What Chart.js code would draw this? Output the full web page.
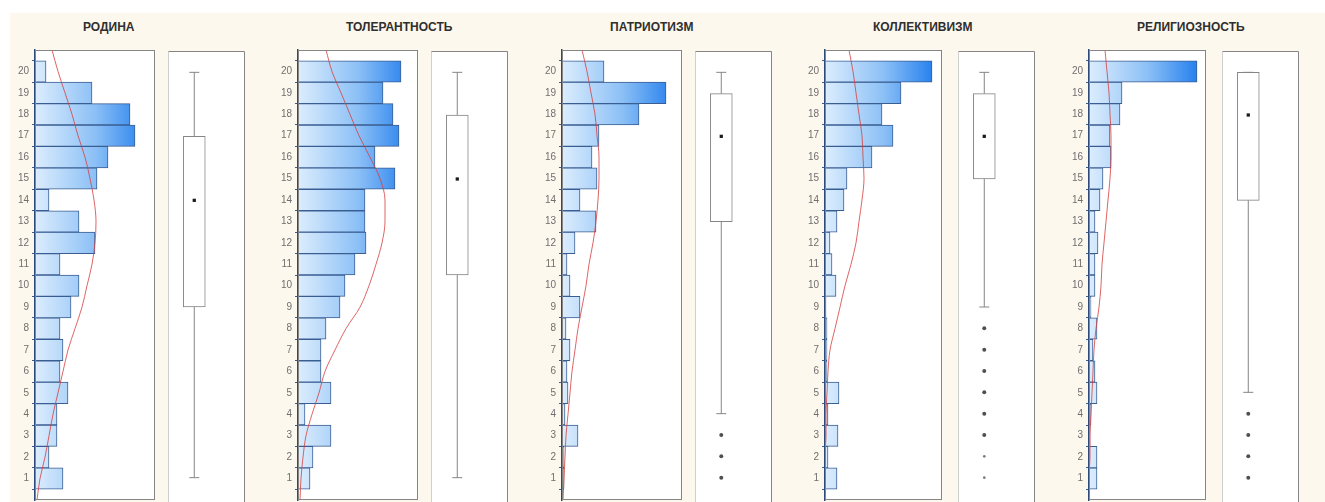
<!DOCTYPE html>
<html>
<head>
<meta charset="utf-8">
<script src="https://cdn.jsdelivr.net/npm/chart.js@4.4.1/dist/chart.umd.min.js"></script>
<style>
  html, body { margin: 0; padding: 0; width: 1325px; height: 502px; overflow: hidden; background: #ffffff; }
  #sheet { position: absolute; left: 10px; top: 13px; right: 0; bottom: 0; background: #fcf8ee; }
  .title { position: absolute; top: 20px; font: bold 12px "Liberation Sans", Arial, sans-serif; color: #2f2f2f; white-space: nowrap; }
  canvas { position: absolute; }
</style>
</head>
<body>
<div id="sheet"></div>
<script>
// Score levels (1..20) shown on each histogram axis
const scoreLevels = [1, 2, 3, 4, 5, 6, 7, 8, 9, 10, 11, 12, 13, 14, 15, 16, 17, 18, 19, 20];
const scaleTitles = ['РОДИНА', 'ТОЛЕРАНТНОСТЬ', 'ПАТРИОТИЗМ', 'КОЛЛЕКТИВИЗМ', 'РЕЛИГИОЗНОСТЬ'];

// Respondent counts per score level (score 1 first)
const countsRodina       = [28, 14, 22, 22, 33, 25, 28, 25, 36, 44, 25, 60, 44, 14, 62, 73, 100, 95, 57, 11];
const countsTolerance    = [12, 15, 33, 7, 33, 23, 23, 28, 42, 47, 57, 68, 67, 67, 97, 77, 101, 95, 85, 103];
const countsPatriotism   = [2, 2, 16, 3, 6, 5, 8, 4, 18, 8, 5, 13, 34, 18, 35, 30, 37, 77, 104, 42];
const countsCollectivism = [12, 3, 13, 3, 14, 2, 2, 2, 1, 11, 7, 5, 12, 19, 22, 47, 68, 57, 76, 107];
const countsReligiosity  = [8, 8, 1, 2, 8, 6, 4, 8, 2, 6, 6, 9, 6, 11, 14, 22, 21, 31, 33, 108];

// Fitted normal curve, read at levels 0..21
const curveLevels       = [0, 1, 2, 3, 4, 5, 6, 7, 8, 9, 10, 11, 12, 13, 14, 15, 16, 17, 18, 19, 20, 21];
const curveRodina       = [2, 5, 10, 14, 18, 23, 28, 33, 40, 47, 52, 57, 60, 61, 59, 55, 50, 43, 37, 30, 23, 17];
const curveTolerance    = [2, 3, 5, 8, 14, 21, 27, 37, 48, 62, 71, 78, 84, 87, 87, 82, 72, 61, 52, 43, 34, 28];
const curvePatriotism   = [1, 2, 3, 4, 6, 8, 10, 13, 16, 20, 24, 27, 31, 34, 36, 37, 37, 35, 33, 29, 25, 20];
const curveCollectivism = [0, 0, 0, 1, 1, 2, 3, 5, 10, 15, 20, 26, 31, 34, 37, 39, 38, 37, 34, 31, 28, 24];
const curveReligiosity  = [0, 0, 1, 1, 2, 3, 4, 5, 7, 10, 12, 13, 15, 17, 19, 21, 22, 22, 21, 20, 18, 16];

// Box plot summaries, one entry per scale
const boxLow    = [1, 1, 4, 9, 5];
const boxQ1     = [9, 10.5, 13, 15, 14];
const boxMedian = [14, 15, 17, 17, 18];
const boxQ3     = [17, 18, 19, 19, 20];
const boxHigh   = [20, 20, 20, 20, 20];
const boxOutliers = [[], [], [3, 2, 1], [8, 7, 6, 5, 4, 3], [4, 3, 2, 1]];
const boxExtremes = [[], [], [], [2, 1], []];

const allCounts = [countsRodina, countsTolerance, countsPatriotism, countsCollectivism, countsReligiosity];
const allCurves = [curveRodina, curveTolerance, curvePatriotism, curveCollectivism, curveReligiosity];

// Page layout
const histLefts  = [35, 298, 562, 825, 1089];
const histWidths = [120, 120, 120, 117, 117];
const AXIS_W = 32, MARK_W = 6, MARK_LEN = 3;
const PLOT_TOP = 50, PLOT_BOTTOM = 500, PAD = 3;
const BOX_OFFSET = 129, BOX_W = 85, BOX_CENTER = 29 / 85, CAP_HALF = 5.5 / 85;

// tiny line height keeps the label axis from padding the plot area
const labelFont = { family: '"Liberation Sans", Arial, sans-serif', size: 10, lineHeight: 0.01 };

function makeCanvas(left, width) {
  const c = document.createElement('canvas');
  c.width = width;
  c.height = PLOT_BOTTOM - PLOT_TOP + 2 * PAD;
  c.style.left = left + 'px';
  c.style.top = (PLOT_TOP - PAD) + 'px';
  document.body.appendChild(c);
  return c;
}

// White plot background plus grey frame
const histFrame = {
  id: 'histFrame',
  beforeDraw(chart) {
    const a = chart.chartArea, ctx = chart.ctx;
    ctx.save();
    ctx.fillStyle = '#ffffff';
    ctx.fillRect(a.left, a.top, a.right - a.left, a.bottom - a.top);
    ctx.restore();
  },
  afterDraw(chart) {
    const a = chart.chartArea, ctx = chart.ctx;
    ctx.save();
    ctx.strokeStyle = '#858585';
    ctx.lineWidth = 1;
    ctx.strokeRect(a.left + 0.5, a.top + 0.5, a.right - a.left - 1, a.bottom - a.top - 1);
    ctx.restore();
  }
};

const boxFrame = {
  id: 'boxFrame',
  beforeDraw(chart) {
    const a = chart.chartArea, ctx = chart.ctx;
    ctx.save();
    ctx.fillStyle = '#ffffff';
    ctx.fillRect(a.left, a.top, a.right - a.left, a.bottom - a.top + PAD);
    ctx.restore();
  },
  afterDraw(chart) {
    const a = chart.chartArea, ctx = chart.ctx;
    ctx.save();
    ctx.lineWidth = 1;
    ctx.strokeStyle = '#cfcfcf';
    ctx.beginPath();
    ctx.moveTo(a.left + 0.5, a.bottom + PAD);
    ctx.lineTo(a.left + 0.5, a.top + 0.5);
    ctx.stroke();
    ctx.strokeStyle = '#858585';
    ctx.beginPath();
    ctx.moveTo(a.left + 0.5, a.top + 0.5);
    ctx.lineTo(a.right - 0.5, a.top + 0.5);
    ctx.lineTo(a.right - 0.5, a.bottom + PAD);
    ctx.stroke();
    ctx.restore();
  }
};

function barGradient(context) {
  const chart = context.chart, a = chart.chartArea;
  if (!a) return '#9cc8f6';
  const g = chart.ctx.createLinearGradient(a.left, 0, a.right, 0);
  g.addColorStop(0, '#dcedfd');
  g.addColorStop(0.5, '#8cc0f6');
  g.addColorStop(1, '#1475ec');
  return g;
}

function histChart(i) {
  const w = histWidths[i];
  const canvas = makeCanvas(histLefts[i] - AXIS_W, AXIS_W + w);
  const counts = allCounts[i], curve = allCurves[i];
  new Chart(canvas, {
    type: 'bar',
    data: {
      datasets: [
        {
          type: 'line',
          indexAxis: 'y',
          data: curveLevels.map((lv, k) => ({ x: curve[k], y: lv })),
          borderColor: 'rgba(214, 62, 62, 0.8)',
          borderWidth: 1,
          pointRadius: 0,
          cubicInterpolationMode: 'monotone',
          order: 0
        },
        {
          type: 'bar',
          data: scoreLevels.map((s, k) => ({ x: counts[k], y: s })),
          backgroundColor: barGradient,
          borderColor: '#3a5d92',
          borderWidth: 1,
          borderSkipped: false,
          barPercentage: 1,
          categoryPercentage: 1,
          order: 1
        }
      ]
    },
    options: {
      indexAxis: 'y',
      responsive: false,
      animation: false,
      events: [],
      layout: { padding: { top: PAD, bottom: PAD, left: 0, right: 0 } },
      plugins: { legend: { display: false }, tooltip: { enabled: false } },
      scales: {
        x: { type: 'linear', min: 0, max: w, display: false, offset: false },
        y: {
          type: 'linear', position: 'left', min: 0, max: 21, weight: 1, offset: false,
          afterBuildTicks: s => { s.ticks = scoreLevels.map(v => ({ value: v })); },
          afterFit: s => { s.width = AXIS_W - MARK_W; },
          grid: { display: false, drawTicks: false, offset: false },
          border: { display: false },
          ticks: { autoSkip: false, padding: 0, color: '#6f6f6f', font: labelFont }
        },
        yMarks: {
          type: 'linear', position: 'left', min: 0, max: 21, weight: 0, offset: false,
          afterBuildTicks: s => { s.ticks = curveLevels.slice(0, 21).map(v => ({ value: v + 0.5 })); },
          afterFit: s => { s.width = MARK_W; },
          ticks: { display: false },
          grid: { display: true, offset: false, drawOnChartArea: false, drawTicks: true, tickLength: MARK_LEN, color: '#3a5d92', lineWidth: 1 },
          border: { display: true, color: '#2d4a7a', width: 1.5 }
        }
      }
    },
    plugins: [histFrame]
  });
}

function boxChart(i) {
  const canvas = makeCanvas(histLefts[i] + BOX_OFFSET, BOX_W);
  const c = BOX_CENTER;
  const whiskers = [
    { x: c, y: boxLow[i] }, { x: c, y: boxQ1[i] }, { x: c, y: null },
    { x: c, y: boxQ3[i] }, { x: c, y: boxHigh[i] }, { x: c, y: null },
    { x: c - CAP_HALF, y: boxLow[i] }, { x: c + CAP_HALF, y: boxLow[i] }, { x: c, y: null },
    { x: c - CAP_HALF, y: boxHigh[i] }, { x: c + CAP_HALF, y: boxHigh[i] }
  ];
  new Chart(canvas, {
    type: 'bar',
    data: {
      datasets: [
        {
          type: 'bar',
          data: [{ x: c, y: [boxQ1[i], boxQ3[i]] }],
          backgroundColor: '#ffffff',
          borderColor: '#858585',
          borderWidth: 1,
          borderSkipped: false,
          barThickness: 22,
          order: 3
        },
        {
          type: 'line',
          data: whiskers,
          borderColor: '#858585',
          borderWidth: 1,
          pointRadius: 0,
          spanGaps: false,
          order: 2
        },
        {
          type: 'scatter',
          data: [{ x: c, y: boxMedian[i] }],
          pointStyle: 'rect',
          pointRadius: 2.3,
          backgroundColor: '#1a1a1a',
          borderWidth: 0,
          order: 1
        },
        {
          type: 'scatter',
          data: boxOutliers[i].map(v => ({ x: c, y: v })),
          pointRadius: 2,
          backgroundColor: '#505050',
          borderWidth: 0,
          order: 1
        },
        {
          type: 'scatter',
          data: boxExtremes[i].map(v => ({ x: c, y: v })),
          pointRadius: 1.3,
          backgroundColor: '#7a7a7a',
          borderWidth: 0,
          order: 1
        }
      ]
    },
    options: {
      responsive: false,
      animation: false,
      events: [],
      layout: { padding: { top: PAD, bottom: PAD, left: 0, right: 0 } },
      plugins: { legend: { display: false }, tooltip: { enabled: false } },
      scales: {
        x: { type: 'linear', min: 0, max: 1, display: false, offset: false },
        y: { type: 'linear', min: 0, max: 21, display: false, offset: false }
      }
    },
    plugins: [boxFrame]
  });
}

scaleTitles.forEach((t, i) => {
  const d = document.createElement('div');
  d.className = 'title';
  d.style.left = (histLefts[i] + 48) + 'px';
  d.textContent = t;
  document.body.appendChild(d);
  histChart(i);
  boxChart(i);
});
</script>
</body>
</html>
